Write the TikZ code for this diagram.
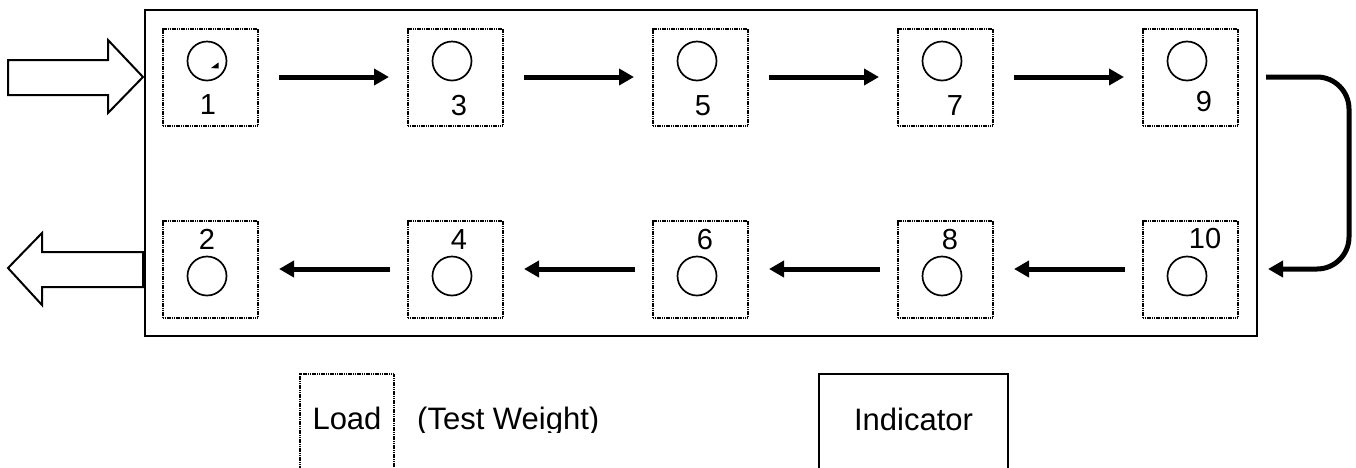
\documentclass[tikz,border=0pt]{standalone}
\usepackage{fontspec}
\setmainfont{Liberation Sans}
\usetikzlibrary{arrows.meta}

\begin{document}
\begin{tikzpicture}[x=1pt,y=-1pt,
    cell/.style={draw, line width=2pt, dash pattern=on 1.2pt off 0.6pt, minimum width=95pt, minimum height=97pt, inner sep=0pt},
    dial/.style={draw, circle, line width=1.7pt, minimum size=39pt, inner sep=0pt},
    num/.style={font=\fontsize{29}{29}\selectfont, inner sep=0pt},
    txt/.style={font=\fontsize{31}{31}\selectfont, inner sep=0pt},
    flow/.style={line width=5pt, -{Triangle[length=15pt,width=16pt]}},
    block/.style={draw, line width=2pt, line join=miter}]
    \clip (0,0) rectangle (1356,467);

    % Frame
    \draw[line width=2pt] (145,10) rectangle (1257,336);

    % Entry and exit
    \draw[block] (8,60) -- (108,60) -- (108,40) -- (143,77) -- (108,113) -- (108,95) -- (8,95) -- cycle;
    \draw[block] (8,268) -- (42,233) -- (42,252) -- (143,252) -- (143,287) -- (42,287) -- (42,305) -- cycle;

    % Top row
    \node[cell] (b1) at (210.5,77) {};
    \node[dial] (c1) at (207,61) {};
    \fill (218.5,62.5) -- (218.5,68.5) -- (211,68) -- cycle;
    \node[num] (n1) at (208,105) {1};
    \node[cell] (b3) at (455.5,77) {};
    \node[dial] (c3) at (452,61) {};
    \node[num] (n3) at (459,106) {3};
    \node[cell] (b5) at (700.5,77) {};
    \node[dial] (c5) at (697,61) {};
    \node[num] (n5) at (703,106) {5};
    \node[cell] (b7) at (945.5,77) {};
    \node[dial] (c7) at (942,61) {};
    \node[num] (n7) at (955,106) {7};
    \node[cell] (b9) at (1190.5,77) {};
    \node[dial] (c9) at (1187,61) {};
    \node[num] (n9) at (1204,102) {9};

    % Bottom row
    \node[cell] (b2) at (210.5,269) {};
    \node[dial] (c2) at (207,276) {};
    \node[num] (n2) at (207,239) {2};
    \node[cell] (b4) at (455.5,269) {};
    \node[dial] (c4) at (452,276) {};
    \node[num] (n4) at (459,240) {4};
    \node[cell] (b6) at (700.5,269) {};
    \node[dial] (c6) at (697,276) {};
    \node[num] (n6) at (705,240) {6};
    \node[cell] (b8) at (945.5,269) {};
    \node[dial] (c8) at (942,276) {};
    \node[num] (n8) at (950,240) {8};
    \node[cell] (b10) at (1190.5,269) {};
    \node[dial] (c10) at (1187,276) {};
    \node[num] (n10) at (1205,239) {10};

    % Sequence
    \draw[flow] ([xshift=20]b1.east) -- ([xshift=-18]b3.west);
    \draw[flow] ([xshift=20]b3.east) -- ([xshift=-18]b5.west);
    \draw[flow] ([xshift=20]b5.east) -- ([xshift=-18]b7.west);
    \draw[flow] ([xshift=20]b7.east) -- ([xshift=-18]b9.west);
    \draw[flow, rounded corners=32pt] ([xshift=27]b9.east) -- ++(83,0) |- ([xshift=29]b10.east);
    \draw[flow] ([xshift=-17]b10.west) -- ([xshift=20]b8.east);
    \draw[flow] ([xshift=-17]b8.west) -- ([xshift=20]b6.east);
    \draw[flow] ([xshift=-17]b6.west) -- ([xshift=20]b4.east);
    \draw[flow] ([xshift=-17]b4.west) -- ([xshift=20]b2.east);

    % Legend
    \node[cell, minimum width=94pt, minimum height=120pt, anchor=north] (load) at (347,373) {};
    \node[txt, anchor=base] (loadtxt) at (347,429) {Load};
    \begin{scope}
        \clip (400,380) rectangle (640,432);
        \node[txt, anchor=base west] (weight) at (417,429) {(Test Weight)};
    \end{scope}
    \node[draw, line width=2pt, minimum width=189pt, minimum height=120pt, anchor=north] (ind) at (913.5,373) {};
    \node[txt, anchor=base] (indtxt) at (913.5,430) {Indicator};
\end{tikzpicture}
\end{document}
